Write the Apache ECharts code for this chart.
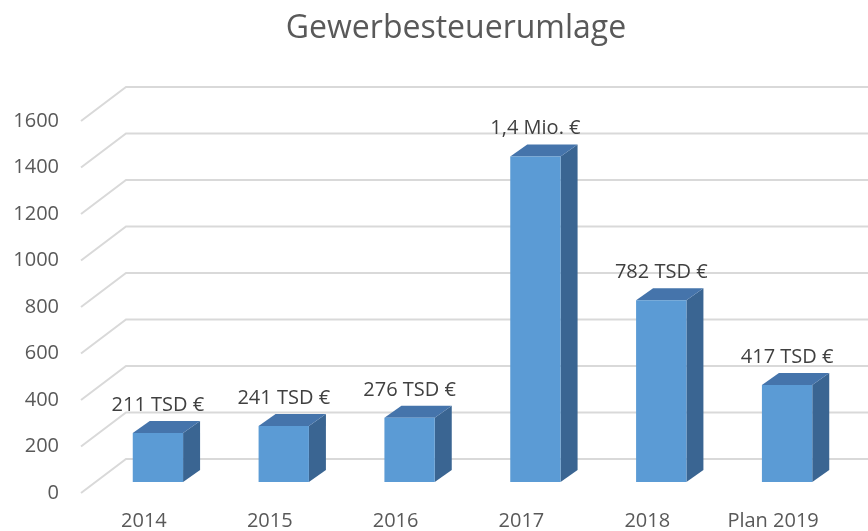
<!DOCTYPE html>
<html>
<head>
<meta charset="utf-8">
<script src="https://cdn.jsdelivr.net/npm/echarts@6/dist/echarts.min.js"></script>
<style>
  html, body { margin: 0; padding: 0; background: #fff; }
  #chart { width: 868px; height: 531px; }
</style>
</head>
<body>
<div id="chart"></div>
<script>
// Daten
const categories = ['2014', '2015', '2016', '2017', '2018', 'Plan 2019'];
const values = [211, 241, 276, 1400, 782, 417];
const valueLabels = ['211 TSD €', '241 TSD €', '276 TSD €', '1,4 Mio. €', '782 TSD €', '417 TSD €'];
const yTicks = [0, 200, 400, 600, 800, 1000, 1200, 1400, 1600];

// Perspektive: Vorderkante / Rückwand relativ zur Balken-Ebene
const FRONT_DX = -14, FRONT_DY = 11;
const BACK_DX = 31, BACK_DY = -23;
const DEPTH_DX = 17, DEPTH_DY = -12;
const FONT = '"Open Sans", sans-serif';

function renderGrid(params, api) {
  const cs = params.coordSys;
  const y = api.coord([0, api.value(1)])[1];
  return {
    type: 'polyline',
    shape: { points: [
      [cs.x + FRONT_DX, y + FRONT_DY],
      [cs.x + BACK_DX, y + BACK_DY],
      [868, y + BACK_DY]
    ] },
    style: { stroke: '#d9d9d9', lineWidth: 2, fill: null }
  };
}

function renderBar(params, api) {
  const i = api.value(0);
  const top = api.coord([i, api.value(1)]);
  const base = api.coord([i, 0]);
  const half = api.size([1, 0])[0] * 0.4 / 2;
  const cx = top[0], ty = top[1], by = base[1];
  return {
    type: 'group',
    children: [
      {
        type: 'polygon',
        shape: { points: [[cx + half, ty], [cx + half + DEPTH_DX, ty + DEPTH_DY],
                          [cx + half + DEPTH_DX, by + DEPTH_DY], [cx + half, by]] },
        style: { fill: '#3a6592' }
      },
      {
        type: 'polygon',
        shape: { points: [[cx - half, ty], [cx - half + DEPTH_DX, ty + DEPTH_DY],
                          [cx + half + DEPTH_DX, ty + DEPTH_DY], [cx + half, ty]] },
        style: { fill: '#4574ab' }
      },
      {
        type: 'rect',
        shape: { x: cx - half, y: ty, width: half * 2, height: by - ty },
        style: { fill: '#5b9bd5' }
      },
      {
        type: 'text',
        style: {
          x: cx, y: ty - 28, text: valueLabels[i],
          align: 'center', verticalAlign: 'middle',
          font: '20px ' + FONT, fill: '#404040'
        }
      }
    ]
  };
}

const chart = echarts.init(document.getElementById('chart'));

chart.setOption({
  animation: false,
  title: {
    text: 'Gewerbesteuerumlage',
    left: 451,
    top: 8,
    textAlign: 'center',
    textStyle: { fontFamily: FONT, fontSize: 32, fontWeight: 'normal', color: '#595959' }
  },
  grid: [
    { left: 95, top: 110, width: 755, height: 372 },   // Balken-Ebene
    { left: 81, top: 121, width: 755, height: 372 }    // Vorderkante (Beschriftung)
  ],
  xAxis: [
    { type: 'category', gridIndex: 0, data: categories, show: false },
    {
      type: 'category', gridIndex: 1, data: categories,
      axisLine: { show: false }, axisTick: { show: false },
      axisLabel: { margin: 18, fontFamily: FONT, fontSize: 20, color: '#595959' }
    }
  ],
  yAxis: [
    { type: 'value', gridIndex: 0, min: 0, max: 1600, interval: 200, show: false },
    {
      type: 'value', gridIndex: 1, min: 0, max: 1600, interval: 200,
      axisLine: { show: false }, axisTick: { show: false }, splitLine: { show: false },
      axisLabel: {
        margin: 22, fontFamily: FONT, fontSize: 20, color: '#595959',
        formatter: v => String(v)
      }
    }
  ],
  series: [
    {
      type: 'custom',
      xAxisIndex: 0, yAxisIndex: 0,
      renderItem: renderGrid,
      data: yTicks.map(v => [0, v]),
      z: 1,
      silent: true
    },
    {
      type: 'custom',
      xAxisIndex: 0, yAxisIndex: 0,
      renderItem: renderBar,
      data: values.map((v, i) => [i, v]),
      z: 2
    }
  ]
});
</script>
</body>
</html>
